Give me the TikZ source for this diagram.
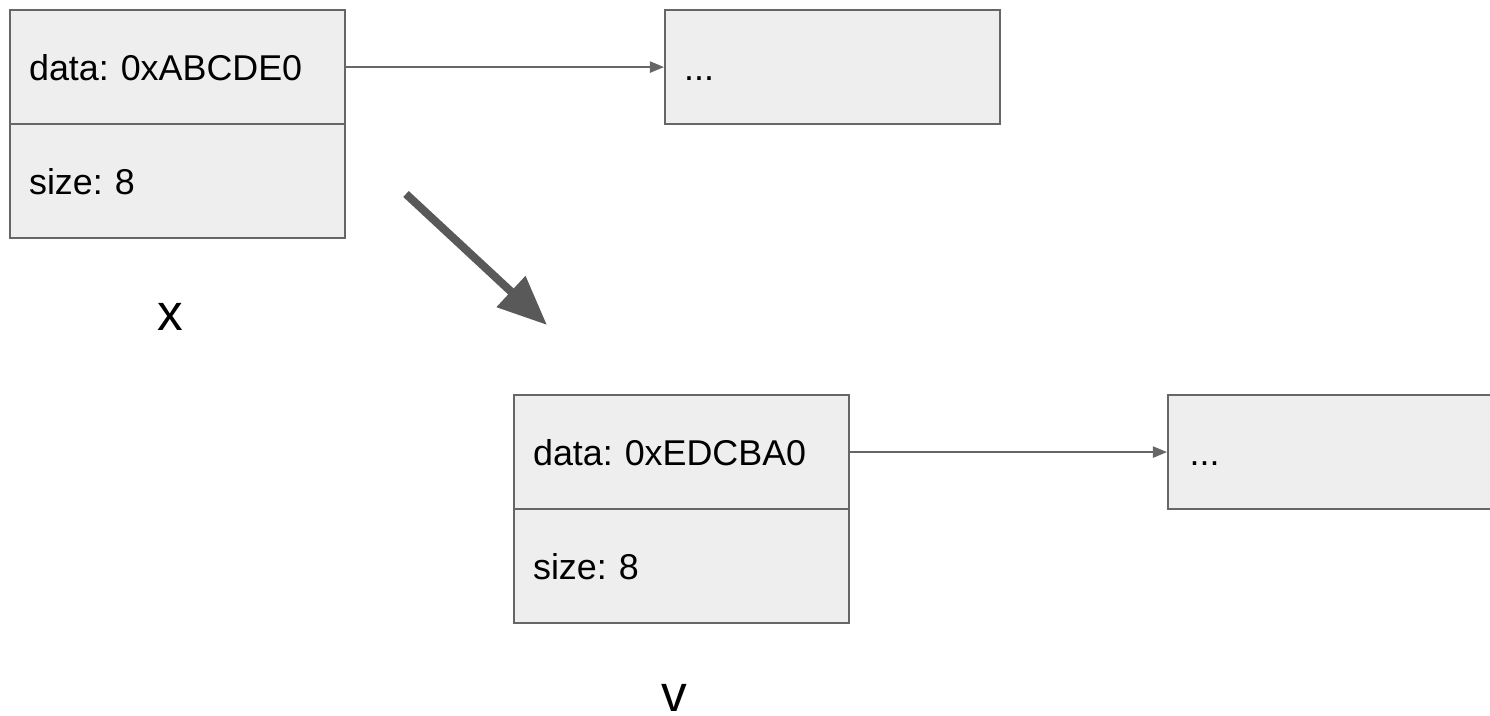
\documentclass[tikz,border=0pt]{standalone}
\usepackage{fontspec}
\setmainfont{Liberation Sans}
\usetikzlibrary{arrows.meta}
\definecolor{cellfill}{HTML}{EEEEEE}
\definecolor{cellline}{HTML}{666666}
\definecolor{movecol}{HTML}{595959}
\tikzset{
  cell/.style={draw=cellline, fill=cellfill, line width=0.6pt, rectangle,
    anchor=north west, minimum width=3.35cm, minimum height=1.14cm,
    text width=2.97cm, inner xsep=0.19cm, inner ysep=0pt, align=left,
    text height=0.26cm, text depth=0pt,
    font=\fontsize{10.2}{12}\selectfont\frenchspacing},
  link/.style={draw=cellline, line width=0.45pt, -{Triangle[length=4pt,width=3.2pt]}},
  movearrow/.style={draw=movecol, line width=2.3pt, -{Triangle[length=14pt,width=11.5pt]}},
  varname/.style={anchor=base, inner sep=0pt, font=\fontsize{14.6}{17}\selectfont}
}
\begin{document}
\begin{tikzpicture}[x=0.01cm, y=-0.01cm]
  \useasboundingbox (0,0) rectangle (1490,716);
  % object x
  \node[cell] (xdata) at (9,9) {data: 0xABCDE0};
  \node[cell] (xsize) at (9,123) {size: 8};
  \node[cell, minimum width=3.34cm] (xbuf) at (664,9) {...};
  \draw[link] (xdata.east) -- (xbuf.west);
  \node[varname] (xname) at (170,331) {x};
  % object v
  \node[cell] (vdata) at (513,394) {data: 0xEDCBA0};
  \node[cell] (vsize) at (513,508) {size: 8};
  \node[cell, minimum width=3.4cm] (vbuf) at (1167,394) {...};
  \draw[link] (vdata.east) -- (vbuf.west);
  \node[varname] (vname) at (674,712) {v};
  % move from x to v
  \coordinate (mvstart) at (406,194);
  \coordinate (mvend) at (547,325);
  \draw[movearrow] (mvstart) -- (mvend);
\end{tikzpicture}
\end{document}
